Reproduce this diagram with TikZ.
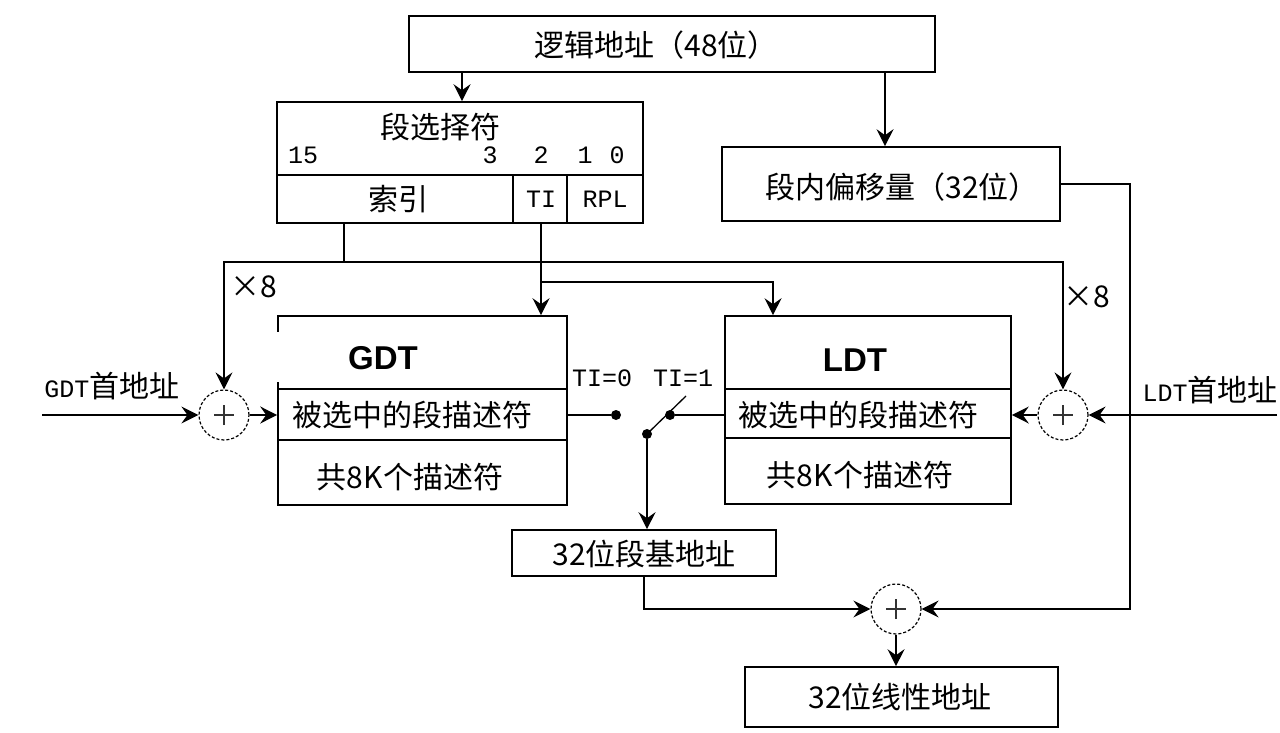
\documentclass[tikz,border=0pt]{standalone}
\usepackage{fontspec}
\newfontfamily\cjk{Noto Sans CJK SC}
\newfontfamily\monofam{Liberation Mono}
\newfontfamily\bsans{Liberation Sans}
\usetikzlibrary{arrows.meta}
\tikzset{
  box/.style={draw, line width=1.6pt, inner sep=0pt, rectangle},
  cjkt/.style={font=\cjk\fontsize{30}{32}\selectfont, inner sep=0pt},
  monot/.style={font=\monofam\fontsize{25}{27}\selectfont, inner sep=0pt},
  boldt/.style={font=\bsans\bfseries\fontsize{33}{35}\selectfont, inner sep=0pt},
  wire/.style={line width=1.6pt},
  arr/.style={wire, -{Stealth[length=17pt,width=17pt,inset=6pt]}},
  arrtwo/.style={wire, {Stealth[length=17pt,width=17pt,inset=6pt]}-{Stealth[length=17pt,width=17pt,inset=6pt]}},
  adder/.style={circle, draw, densely dashed, line width=1.2pt, minimum size=50pt, inner sep=0pt},
  swdot/.style={circle, fill, inner sep=0pt, minimum size=10pt},
  plusline/.style={line width=1.3pt, black!80},
}
\begin{document}
\begin{tikzpicture}[x=1pt,y=-1pt]
\useasboundingbox (0,0) rectangle (1280,733);
\fill[white] (0,0) rectangle (1280,733);

% boxes
\node[box, minimum width=526pt, minimum height=56pt] (la) at (672,44) {};
\node[box, minimum width=366pt, minimum height=121pt] (sel) at (460,162.5) {};
\node[box, minimum width=338pt, minimum height=74pt] (off) at (891,184) {};
\node[box, minimum width=289pt, minimum height=189pt] (gdt) at (422.5,410.5) {};
\node[box, minimum width=286pt, minimum height=188pt] (ldt) at (868,410) {};
\node[box, minimum width=264pt, minimum height=46pt] (base) at (644,553) {};
\node[box, minimum width=313pt, minimum height=60pt] (lin) at (901.5,697) {};

% gap on the left edge of GDT box
\fill[white] (274,332) rectangle (282,382);

% inner lines
\coordinate (ys) at (0,175);
\draw[wire] (ys -| sel.west) -- (ys -| sel.east);
\coordinate (xd1) at (513,0);
\coordinate (xd2) at (567,0);
\draw[wire] (ys -| xd1) -- (sel.south -| xd1);
\draw[wire] (ys -| xd2) -- (sel.south -| xd2);
\coordinate (yg1) at (0,389);
\coordinate (yg2) at (0,440);
\draw[wire] (yg1 -| gdt.west) -- (yg1 -| gdt.east);
\draw[wire] (yg2 -| gdt.west) -- (yg2 -| gdt.east);
\coordinate (yl1) at (0,389);
\coordinate (yl2) at (0,438);
\draw[wire] (yl1 -| ldt.west) -- (yl1 -| ldt.east);
\draw[wire] (yl2 -| ldt.west) -- (yl2 -| ldt.east);

% adders
\node[adder] (addG) at (224,415) {};
\node[adder] (addL) at (1063,415) {};
\node[adder] (addB) at (896,609) {};
\foreach \a in {addG,addL,addB}{
  \draw[plusline] ([xshift=-10pt]\a.center) -- ([xshift=10pt]\a.center);
  \draw[plusline] ([yshift=-10pt]\a.center) -- ([yshift=10pt]\a.center);
}

% switch
\node[swdot] (d0) at (616,415) {};
\node[swdot] (d1) at (670,415) {};
\node[swdot] (dp) at (647,434) {};
\coordinate (be) at (686,396);

% texts
\node[cjkt] (tla) at (656,45) {逻辑地址（48位）};
\node[cjkt] (tsel) at (440,127) {段选择符};
\node[monot] (b15) at (303,155) {15};
\node[monot] (b3) at (490,155) {3};
\node[monot] (b2) at (541,155) {2};
\node[monot] (b1) at (585,155) {1};
\node[monot] (b0) at (617,155) {0};
\node[cjkt] (tidx) at (398,199) {索引};
\node[monot] (tti) at (541,199) {TI};
\node[monot] (trpl) at (605,199) {RPL};
\node[cjkt] (toff) at (902,187) {段内偏移量（32位）};
\node[boldt] (tg) at (383,358) {GDT};
\node[boldt] (tl) at (855,360) {LDT};
\node[cjkt] (tg1) at (412,415) {被选中的段描述符};
\node[cjkt] (tg2) at (410,477) {共8K个描述符};
\node[cjkt] (tl1) at (858,415) {被选中的段描述符};
\node[cjkt] (tl2) at (860,475) {共8K个描述符};
\node[monot] (tti0) at (602,378) {TI=0};
\node[monot] (tti1) at (683,378) {TI=1};
\node[cjkt] (tx8a) at (254,287) {×8};
\node[cjkt] (tx8b) at (1087,297) {×8};
\node[inner sep=0pt] (tgdt) at (112,386) {{\monofam\fontsize{25}{27}\selectfont GDT}{\cjk\fontsize{30}{32}\selectfont 首地址}};
\node[inner sep=0pt] (tldt) at (1210,390) {{\monofam\fontsize{25}{27}\selectfont LDT}{\cjk\fontsize{30}{32}\selectfont 首地址}};
\node[cjkt] (tbase) at (644,554) {32位段基地址};
\node[cjkt] (tlin) at (900,697) {32位线性地址};

% connectors
\coordinate (xa) at (462,0);
\draw[arr] (la.south -| xa) -- (sel.north -| xa);
\coordinate (xb) at (885,0);
\draw[arr] (la.south -| xb) -- (off.north -| xb);
\coordinate (xr) at (1130,0);
\draw[arr] (off.east) -- (off.east -| xr) -- (addB -| xr) -- (addB.east);

\coordinate (xi) at (344,0);
\coordinate (yh) at (0,262);
\draw[wire] (sel.south -| xi) -- (yh -| xi);
\draw[arrtwo] (addG.north) -- (yh -| addG) -- (yh -| addL) -- (addL.north);

\coordinate (xt) at (541,0);
\draw[arr] (sel.south -| xt) -- (gdt.north -| xt);
\coordinate (yt) at (0,282);
\coordinate (xl) at (773,0);
\draw[arr] (yt -| xt) -- (yt -| xl) -- (ldt.north -| xl);

\coordinate (gin) at (42,415);
\draw[arr] (gin) -- (addG.west);
\draw[arr] (addG.east) -- (addG.east -| gdt.west);
\coordinate (lin0) at (1277,415);
\draw[arr] (lin0) -- (addL.east);
\draw[arr] (addL.west) -- (addL.west -| ldt.east);

\draw[wire] (d0 -| gdt.east) -- (d0);
\draw[wire] (d1) -- (d1 -| ldt.west);
\draw[wire, line width=1.3pt] (dp.center) -- (be);
\draw[arr] (dp) -- (base.north -| dp);

\draw[arr] (base.south) -- (base.south |- addB) -- (addB.west);
\draw[arr] (addB.south) -- (lin.north -| addB);
\end{tikzpicture}
\end{document}
